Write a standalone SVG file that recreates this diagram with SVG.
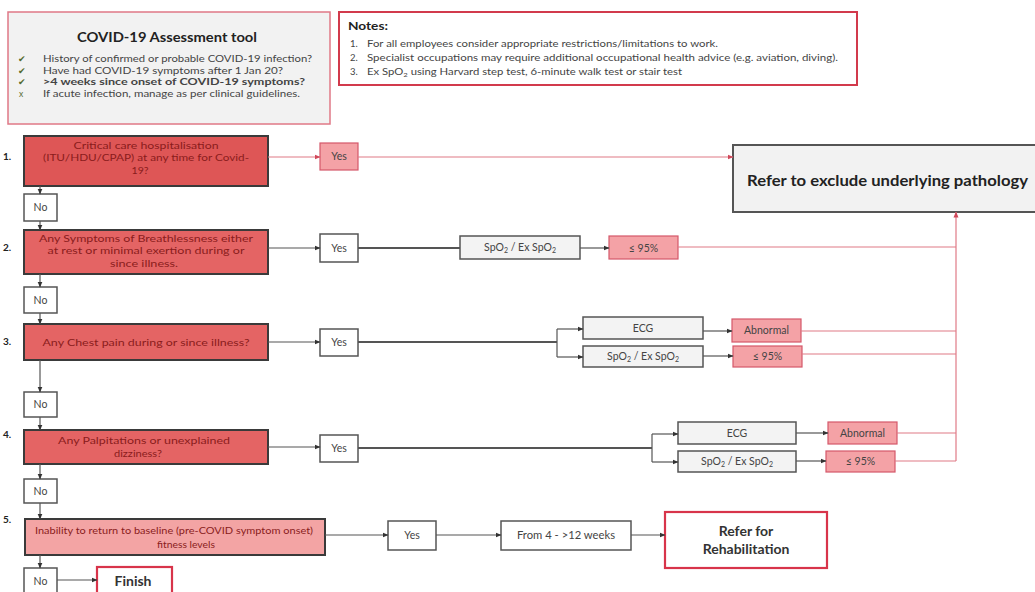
<svg xmlns="http://www.w3.org/2000/svg" width="1035" height="592" viewBox="0 0 1035 592">
  <defs>
    <marker id="arrDark" viewBox="0 0 6 6" refX="5.5" refY="3" markerWidth="6" markerHeight="6" markerUnits="userSpaceOnUse" orient="auto">
      <path d="M0,0.5 L6,3 L0,5.5 Z" fill="#333"/>
    </marker>
    <marker id="arrRed" viewBox="0 0 6 6" refX="5.5" refY="3" markerWidth="6" markerHeight="6" markerUnits="userSpaceOnUse" orient="auto">
      <path d="M0,0.5 L6,3 L0,5.5 Z" fill="#d0485a"/>
    </marker>
  </defs>
  <style>
    text { font-family: Lato, "Liberation Sans", sans-serif; }
    .q { fill: #e46464; stroke: #3a3a3a; stroke-width: 2; }
    .q1 { fill: #de5656; stroke: #3a3a3a; stroke-width: 2; }
    .q5 { fill: #f3a4a4; stroke: #3a3a3a; stroke-width: 2; }
    .qt { font-size: 10px; fill: #8a1c1c; text-anchor: middle; }
    .num { font-size: 10px; font-weight: bold; fill: #222; }
    .wb { fill: #fff; stroke: #555; stroke-width: 1.5; }
    .gb { fill: #f3f3f3; stroke: #555; stroke-width: 1.5; }
    .pb { fill: #f4a2a6; stroke: #d4586a; stroke-width: 1.2; }
    .st { font-size: 10.5px; fill: #444; text-anchor: middle; }
    .ln { fill: none; stroke: #555; stroke-width: 1.2; }
    .lnd { fill: none; stroke: #555; stroke-width: 2; }
    .lr { fill: none; stroke: #e07a86; stroke-width: 1.2; }
    .small { font-size: 9.5px; fill: #444; }
    .chk { font-size: 9px; fill: #556b2f; }
  </style>

  <!-- Assessment checklist -->
  <g id="assessment">
    <rect x="8" y="12" width="322" height="112" fill="#f2f2f2" stroke="#e07886" stroke-width="1.5"/>
    <text x="167" y="42" font-size="12.5px" font-weight="bold" fill="#222" text-anchor="middle" textLength="180" lengthAdjust="spacingAndGlyphs">COVID-19 Assessment tool</text>
    <text x="18" y="62" class="chk">✔</text>
    <text x="43" y="62" class="small" textLength="269" lengthAdjust="spacingAndGlyphs">History of confirmed or probable COVID-19 infection?</text>
    <text x="18" y="73.5" class="chk">✔</text>
    <text x="43" y="73.5" class="small" textLength="240" lengthAdjust="spacingAndGlyphs">Have had COVID-19 symptoms after 1 Jan 20?</text>
    <text x="18" y="85" class="chk">✔</text>
    <text x="43" y="85" class="small" font-weight="bold" fill="#222" textLength="262" lengthAdjust="spacingAndGlyphs">&gt;4 weeks since onset of COVID-19 symptoms?</text>
    <text x="19" y="96.5" font-size="8.5px" fill="#556b2f">x</text>
    <text x="43" y="96.5" class="small" textLength="257" lengthAdjust="spacingAndGlyphs">If acute infection, manage as per clinical guidelines.</text>
  </g>

  <!-- Notes -->
  <g id="notes">
    <rect x="339" y="12" width="518" height="73" fill="#fff" stroke="#d23a4c" stroke-width="2"/>
    <text x="348" y="30" font-size="11px" font-weight="bold" fill="#222" textLength="40" lengthAdjust="spacingAndGlyphs">Notes:</text>
    <text x="350" y="47" class="small">1.</text>
    <text x="367" y="47" class="small" textLength="351" lengthAdjust="spacingAndGlyphs">For all employees consider appropriate restrictions/limitations to work.</text>
    <text x="350" y="61" class="small">2.</text>
    <text x="367" y="61" class="small" textLength="471" lengthAdjust="spacingAndGlyphs">Specialist occupations may require additional occupational health advice (e.g. aviation, diving).</text>
    <text x="350" y="75" class="small">3.</text>
    <text x="367" y="75" class="small" textLength="315" lengthAdjust="spacingAndGlyphs">Ex SpO<tspan font-size="6.5px" dy="2">2</tspan><tspan dy="-2"> using Harvard step test, 6-minute walk test or stair test</tspan></text>
  </g>

  <!-- Step numbers -->
  <g id="numbers">
    <text x="3" y="160" class="num">1.</text>
    <text x="3" y="251" class="num">2.</text>
    <text x="3" y="345" class="num">3.</text>
    <text x="3" y="438" class="num">4.</text>
    <text x="3" y="523" class="num">5.</text>
  </g>

  <!-- Question 1 -->
  <g id="q1">
    <rect x="24" y="136" width="244" height="50" class="q1"/>
    <text x="146" y="148.5" class="qt" textLength="145" lengthAdjust="spacingAndGlyphs">Critical care hospitalisation</text>
    <text x="146" y="161" class="qt" textLength="206" lengthAdjust="spacingAndGlyphs">(ITU/HDU/CPAP) at any time for Covid-</text>
    <text x="140" y="173.5" class="qt" textLength="17" lengthAdjust="spacingAndGlyphs">19?</text>
  </g>
  <g id="q1-yes">
    <rect x="320" y="143" width="38" height="27" class="pb"/>
    <text x="339" y="160" class="st">Yes</text>
  </g>
  <g id="q1-no">
    <rect x="24" y="194" width="33" height="27" class="wb"/>
    <text x="40.5" y="211" class="st">No</text>
  </g>

  <!-- Question 2 -->
  <g id="q2">
    <rect x="24" y="230" width="244" height="44" class="q"/>
    <text x="146" y="241.5" class="qt" textLength="214" lengthAdjust="spacingAndGlyphs">Any Symptoms of Breathlessness either</text>
    <text x="146" y="254" class="qt" textLength="197" lengthAdjust="spacingAndGlyphs">at rest or minimal exertion during or</text>
    <text x="144" y="266.5" class="qt" textLength="68" lengthAdjust="spacingAndGlyphs">since illness.</text>
  </g>
  <g id="q2-yes">
    <rect x="320" y="234" width="38" height="28" class="wb"/>
    <text x="339" y="251.5" class="st">Yes</text>
  </g>
  <g id="q2-spo2">
    <rect x="460" y="236" width="120" height="23" class="gb"/>
    <text x="520" y="251" class="st">SpO<tspan font-size="7px" dy="2">2</tspan><tspan dy="-2"> / Ex SpO</tspan><tspan font-size="7px" dy="2">2</tspan></text>
  </g>
  <g id="q2-low">
    <rect x="609" y="236" width="69" height="23" class="pb"/>
    <text x="643.5" y="251.5" class="st">≤ 95%</text>
  </g>
  <g id="q2-no">
    <rect x="24" y="287" width="33" height="26" class="wb"/>
    <text x="40.5" y="303.5" class="st">No</text>
  </g>

  <!-- Question 3 -->
  <g id="q3">
    <rect x="24" y="324" width="244" height="36" class="q"/>
    <text x="146" y="345.5" class="qt" textLength="207" lengthAdjust="spacingAndGlyphs">Any Chest pain during or since illness?</text>
  </g>
  <g id="q3-yes">
    <rect x="320" y="329" width="38" height="27" class="wb"/>
    <text x="339" y="346" class="st">Yes</text>
  </g>
  <g id="q3-ecg">
    <rect x="583" y="317" width="120" height="22" class="gb"/>
    <text x="643" y="331.5" class="st">ECG</text>
  </g>
  <g id="q3-spo2">
    <rect x="583" y="346" width="120" height="21" class="gb"/>
    <text x="643" y="360" class="st">SpO<tspan font-size="7px" dy="2">2</tspan><tspan dy="-2"> / Ex SpO</tspan><tspan font-size="7px" dy="2">2</tspan></text>
  </g>
  <g id="q3-abnormal">
    <rect x="732" y="319" width="69" height="23" class="pb"/>
    <text x="766.5" y="334" class="st">Abnormal</text>
  </g>
  <g id="q3-low">
    <rect x="733" y="346" width="69" height="21" class="pb"/>
    <text x="767.5" y="360" class="st">≤ 95%</text>
  </g>
  <g id="q3-no">
    <rect x="24" y="392" width="33" height="25" class="wb"/>
    <text x="40.5" y="408" class="st">No</text>
  </g>

  <!-- Question 4 -->
  <g id="q4">
    <rect x="24" y="430" width="244" height="34" class="q"/>
    <text x="144" y="443.5" class="qt" textLength="172" lengthAdjust="spacingAndGlyphs">Any Palpitations or unexplained</text>
    <text x="138" y="456.5" class="qt" textLength="48" lengthAdjust="spacingAndGlyphs">dizziness?</text>
  </g>
  <g id="q4-yes">
    <rect x="320" y="435" width="38" height="27" class="wb"/>
    <text x="339" y="452" class="st">Yes</text>
  </g>
  <g id="q4-ecg">
    <rect x="678" y="422" width="118" height="22" class="gb"/>
    <text x="737" y="436.5" class="st">ECG</text>
  </g>
  <g id="q4-spo2">
    <rect x="678" y="451" width="118" height="21" class="gb"/>
    <text x="737" y="465" class="st">SpO<tspan font-size="7px" dy="2">2</tspan><tspan dy="-2"> / Ex SpO</tspan><tspan font-size="7px" dy="2">2</tspan></text>
  </g>
  <g id="q4-abnormal">
    <rect x="828" y="422" width="69" height="22" class="pb"/>
    <text x="862.5" y="436.5" class="st">Abnormal</text>
  </g>
  <g id="q4-low">
    <rect x="826" y="451" width="69" height="21" class="pb"/>
    <text x="860.5" y="465" class="st">≤ 95%</text>
  </g>
  <g id="q4-no">
    <rect x="24" y="479" width="33" height="24" class="wb"/>
    <text x="40.5" y="494.5" class="st">No</text>
  </g>

  <!-- Question 5 -->
  <g id="q5">
    <rect x="25" y="519" width="300" height="36" class="q5"/>
    <text x="174" y="533.5" class="qt" textLength="278" lengthAdjust="spacingAndGlyphs">Inability to return to baseline (pre-COVID symptom onset)</text>
    <text x="186" y="548" class="qt" textLength="58" lengthAdjust="spacingAndGlyphs">fitness levels</text>
  </g>
  <g id="q5-yes">
    <rect x="388" y="521" width="48" height="29" class="wb"/>
    <text x="412" y="539" class="st">Yes</text>
  </g>
  <g id="q5-weeks">
    <rect x="501" y="521" width="130" height="29" class="wb"/>
    <text x="566" y="539" class="st" textLength="98" lengthAdjust="spacingAndGlyphs">From 4 - &gt;12 weeks</text>
  </g>
  <g id="rehab">
    <rect x="665" y="512" width="162" height="56" fill="#fff" stroke="#d8344a" stroke-width="2.2"/>
    <text x="746" y="536" font-size="14px" font-weight="bold" fill="#333" text-anchor="middle">Refer for</text>
    <text x="746" y="554" font-size="14px" font-weight="bold" fill="#333" text-anchor="middle">Rehabilitation</text>
  </g>
  <g id="q5-no">
    <rect x="24" y="568" width="33" height="26" class="wb"/>
    <text x="40.5" y="585" class="st">No</text>
  </g>
  <g id="finish">
    <rect x="97" y="567" width="75" height="28" fill="#fff" stroke="#d8344a" stroke-width="2.2"/>
    <text x="133" y="586" font-size="14px" font-weight="bold" fill="#333" text-anchor="middle">Finish</text>
  </g>

  <!-- Referral outcome -->
  <g id="refer-pathology">
    <rect x="733" y="145" width="310" height="67" fill="#f2f2f2" stroke="#555" stroke-width="2"/>
    <text x="747" y="186" font-size="16px" font-weight="bold" fill="#222" textLength="281" lengthAdjust="spacingAndGlyphs">Refer to exclude underlying pathology</text>
  </g>

  <!-- Connectors -->
  <g id="connectors">
    <!-- vertical "No" spine -->
    <line x1="40" y1="186" x2="40" y2="194" class="ln" marker-end="url(#arrDark)"/>
    <line x1="40" y1="221" x2="40" y2="230" class="ln" marker-end="url(#arrDark)"/>
    <line x1="40" y1="274" x2="40" y2="287" class="ln" marker-end="url(#arrDark)"/>
    <line x1="40" y1="313" x2="40" y2="324" class="ln" marker-end="url(#arrDark)"/>
    <line x1="40" y1="360" x2="40" y2="392" class="ln" marker-end="url(#arrDark)"/>
    <line x1="40" y1="417" x2="40" y2="430" class="ln" marker-end="url(#arrDark)"/>
    <line x1="40" y1="464" x2="40" y2="479" class="ln" marker-end="url(#arrDark)"/>
    <line x1="40" y1="503" x2="40" y2="519" class="ln" marker-end="url(#arrDark)"/>
    <line x1="40" y1="555" x2="40" y2="568" class="ln" marker-end="url(#arrDark)"/>
    <line x1="57" y1="580" x2="97" y2="580" class="ln" marker-end="url(#arrDark)"/>

    <!-- question to Yes -->
    <line x1="268" y1="157" x2="320" y2="157" class="lr" marker-end="url(#arrRed)"/>
    <line x1="268" y1="248" x2="320" y2="248" class="ln" marker-end="url(#arrDark)"/>
    <line x1="268" y1="342" x2="320" y2="342" class="ln" marker-end="url(#arrDark)"/>
    <line x1="268" y1="447" x2="320" y2="447" class="ln" marker-end="url(#arrDark)"/>
    <line x1="325" y1="535" x2="388" y2="535" class="ln" marker-end="url(#arrDark)"/>

    <!-- row 1 -->
    <line x1="358" y1="157" x2="733" y2="157" class="lr" marker-end="url(#arrRed)"/>

    <!-- row 2 -->
    <line x1="358" y1="248" x2="460" y2="248" class="lnd"/>
    <line x1="580" y1="248" x2="609" y2="248" class="ln" marker-end="url(#arrDark)"/>

    <!-- row 3 -->
    <path d="M358,342 H557" class="lnd"/>
    <path d="M557,329 V357" class="ln"/>
    <line x1="557" y1="329" x2="583" y2="329" class="ln" marker-end="url(#arrDark)"/>
    <line x1="557" y1="357" x2="583" y2="357" class="ln" marker-end="url(#arrDark)"/>
    <line x1="703" y1="331" x2="732" y2="331" class="ln" marker-end="url(#arrDark)"/>
    <line x1="703" y1="356" x2="733" y2="356" class="ln" marker-end="url(#arrDark)"/>

    <!-- row 4 -->
    <path d="M358,448 H652" class="lnd"/>
    <path d="M652,434 V462" class="ln"/>
    <line x1="652" y1="434" x2="678" y2="434" class="ln" marker-end="url(#arrDark)"/>
    <line x1="652" y1="462" x2="678" y2="462" class="ln" marker-end="url(#arrDark)"/>
    <line x1="796" y1="433" x2="828" y2="433" class="ln" marker-end="url(#arrDark)"/>
    <line x1="796" y1="461" x2="826" y2="461" class="ln" marker-end="url(#arrDark)"/>

    <!-- row 5 -->
    <line x1="436" y1="535" x2="501" y2="535" class="ln" marker-end="url(#arrDark)"/>
    <line x1="631" y1="535" x2="665" y2="535" class="ln" marker-end="url(#arrDark)"/>

    <!-- results feeding the referral -->
    <path d="M678,247 H956" class="lr"/>
    <path d="M801,331 H956" class="lr"/>
    <path d="M802,354 H956" class="lr"/>
    <path d="M897,433 H956" class="lr"/>
    <path d="M895,461 H956" class="lr"/>
    <line x1="956" y1="461" x2="956" y2="212" class="lr" marker-end="url(#arrRed)"/>
  </g>
</svg>
